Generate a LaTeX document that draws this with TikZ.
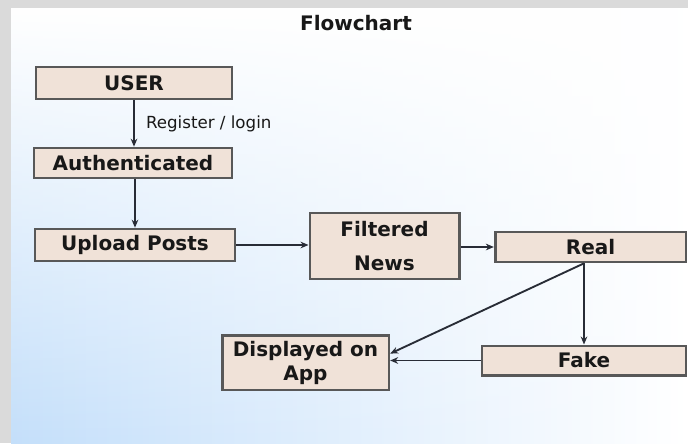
\documentclass[tikz,border=0pt]{standalone}
\usepackage{fontspec}
\setmainfont{DejaVu Sans}
\usepackage{xcolor}
\usepackage{tikz}
\usetikzlibrary{arrows.meta, positioning, fadings}
\definecolor{boxfill}{RGB}{240,226,216}
\definecolor{boxline}{RGB}{88,88,88}
\definecolor{arrowcol}{RGB}{40,44,54}
\definecolor{framegray}{RGB}{218,218,218}
\definecolor{panelblue}{RGB}{196,223,250}
\definecolor{inkcol}{RGB}{24,24,24}
\tikzfading[name=fadetop, top color=transparent!0, middle color=transparent!80, bottom color=transparent!100]
\tikzset{
	box/.style={draw=boxline, line width=2pt, fill=boxfill, inner sep=0pt, text=inkcol,
		font=\fontsize{15}{18}\selectfont\bfseries, align=center},
	conn/.style={->, draw=arrowcol, line width=1.4pt}
}

\begin{document}
\begin{tikzpicture}[x=0.75pt, y=-0.75pt, >={Stealth[length=6pt, width=5pt]}]
				% frame and panel
				\fill[framegray] (0, 0) rectangle (688, 443);
				\shade[left color=panelblue, right color=white] (11, 8) rectangle (688, 443);
				\fill[white, path fading=fadetop] (11, 8) rectangle (688, 443);

				\node[text=inkcol, font=\fontsize{15}{18}\selectfont\bfseries] (title) at (356, 23) {Flowchart};

				\node[box, minimum width=147pt, minimum height=24pt] (user) at (134, 83) {USER};
				\node[box, minimum width=148.5pt, minimum height=22.5pt] (auth) at (133, 163) {Authenticated};
				\node[box, minimum width=150pt, minimum height=24pt] (upload) at (135, 245) {Upload Posts};
				\node[box, minimum width=112pt, minimum height=49.5pt] (filtered) at (384.5, 246) {Filtered\\[7pt]News};
				\node[box, minimum width=143pt, minimum height=22.5pt] (real) at (590.5, 247) {Real};
				\node[box, minimum width=125pt, minimum height=41pt] (display) at (305.5, 362.5) {Displayed on\\App};
				\node[box, minimum width=153pt, minimum height=22pt] (fake) at (584, 360.5) {Fake};

				\draw[conn] (user.south) -- (user.south |- auth.north)
					node (reg) [midway, right, xshift=5pt, text=inkcol, font=\fontsize{12.5}{15}\selectfont] {Register / login};
				\draw[conn] (upload.north |- auth.south) -- (upload.north);
				\draw[conn] (upload.east) -- (upload.east -| filtered.west);
				\draw[conn] (filtered.east |- real.west) -- (real.west);
				\draw[conn] (fake.north |- real.south) -- (fake.north);
				\draw[conn] (fake.north |- real.south) -- (display.6);
				\draw[conn] (fake.west) -- (fake.west -| display.east);
			\end{tikzpicture}
\end{document}
